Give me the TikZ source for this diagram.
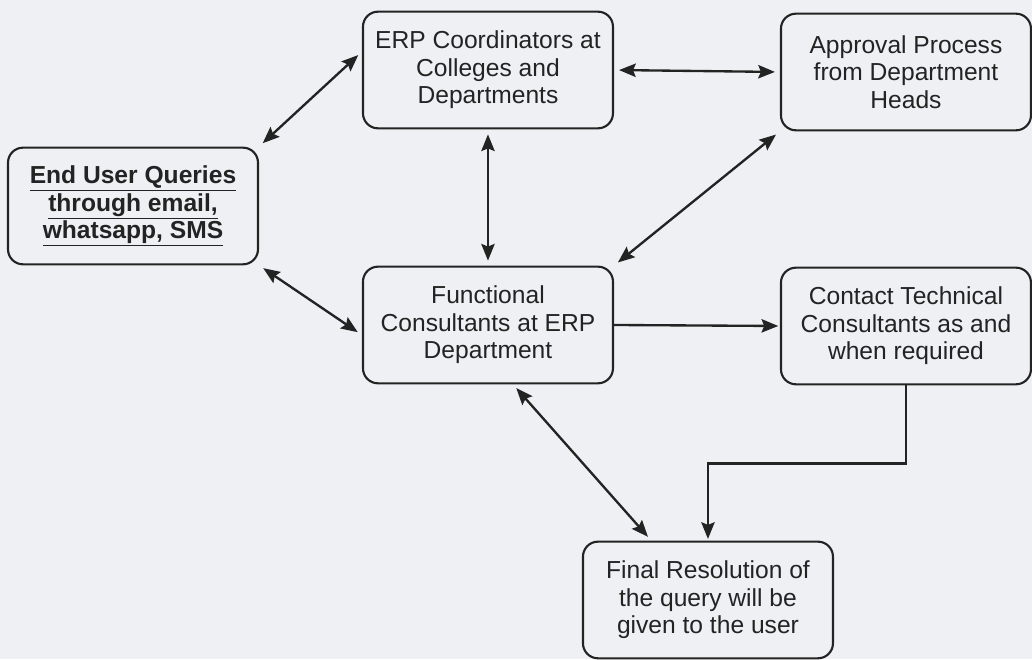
\documentclass[tikz,border=0pt]{standalone}
\usepackage{fontspec}
\setmainfont{Liberation Sans}
\usetikzlibrary{arrows.meta,positioning}
\definecolor{paper}{RGB}{239,240,243}
\definecolor{ink}{RGB}{35,35,35}

\begin{document}
\begin{tikzpicture}[
    stage/.style={rectangle, draw=ink, line width=1.8pt, rounded corners=0.45cm, fill=paper, minimum width=\w cm, minimum height=\h cm, align=center, text=ink, font=\fontsize{21}{23.5}\selectfont},
    link/.style={draw=ink, line width=2pt, {Stealth[length=5mm,width=4mm,inset=0.8mm]}-{Stealth[length=5mm,width=4mm,inset=0.8mm]}, shorten <=0.15cm, shorten >=0.15cm},
    oneway/.style={draw=ink, line width=2pt, -{Stealth[length=5mm,width=4mm,inset=0.8mm]}, shorten >=0.05cm}
]
    \def\w{7.5}
    \def\h{3.5}
    \fill[paper] (0,0) rectangle (30.96,-19.77);

    \node(users) [stage, font=\fontsize{21}{23.5}\selectfont\bfseries] at (3.99,-6.18) {\underline{End User Queries}\\ \underline{through email,}\\ \underline{whatsapp, SMS}};
    \node(coord) [stage] at (14.64,-2.1) {ERP Coordinators at\\ Colleges and\\ Departments};
    \node(approval) [stage] at (27.18,-2.16) {Approval Process\\ from Department\\ Heads};
    \node(functional) [stage] at (14.64,-9.75) {Functional\\ Consultants at ERP\\ Department};
    \node(technical) [stage] at (27.18,-9.78) {Contact Technical\\ Consultants as and\\ when required};
    \node(final) [stage] at (21.24,-18.0) {Final Resolution of\\ the query will be\\ given to the user};

    \draw[link] (users.north east) -- ([yshift=0.55cm]coord.west);
    \draw[link] (users.south east) -- ([yshift=-0.3cm]functional.west);
    \draw[link] (coord.east) -- (approval.west);
    \draw[link] (coord.south) -- (functional.north);
    \draw[link] (functional.north east) -- (approval.south west);
    \draw[oneway] (functional.east) -- (technical.west);
    \draw[link] ([xshift=0.75cm]functional.south) -- ([xshift=-1.7cm]final.north);
    \draw[oneway] (technical.south) -- ++(0,-2.34) -| (final.north);
\end{tikzpicture}
\end{document}
